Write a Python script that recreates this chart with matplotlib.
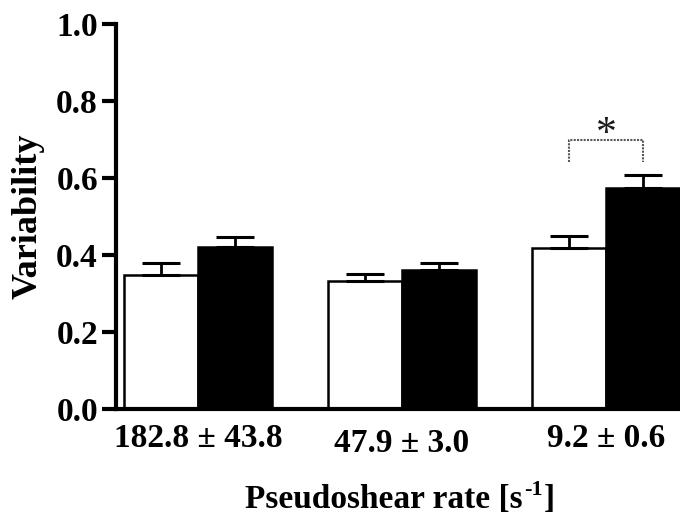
import matplotlib
matplotlib.use("Agg")
import matplotlib.pyplot as plt
import matplotlib.transforms as mtransforms
import numpy as np

# pseudoshear rate groups (mean ± sd, s^-1)
groups = ["182.8 \u00b1 43.8", "47.9 \u00b1 3.0", "9.2 \u00b1 0.6"]
open_vals = [0.348, 0.333, 0.417]
open_err = [0.031, 0.018, 0.031]
filled_vals = [0.421, 0.360, 0.573]
filled_err = [0.026, 0.020, 0.035]
yticks = [0.0, 0.2, 0.4, 0.6, 0.8, 1.0]

plt.rcParams["font.family"] = ["Liberation Serif", "DejaVu Serif"]
plt.rcParams["font.weight"] = "bold"

fig = plt.figure(figsize=(6.8, 5.21), dpi=100)
ax = fig.add_axes([0.1706, 0.215, 0.8294, 0.739])

x = np.arange(len(groups))
w = 0.363

ax.bar(x - w / 2, open_vals, w, color="white", edgecolor="black", linewidth=1.8, zorder=2)
ax.bar(x + w / 2, filled_vals, w, color="black", edgecolor="black", linewidth=1.8, zorder=2)
# upper error bars only
ax.errorbar(x - w / 2, open_vals, yerr=[np.zeros(3), open_err], fmt="none",
            ecolor="black", elinewidth=2, capsize=13.5, capthick=2.2, zorder=3)
ax.errorbar(x + w / 2, filled_vals, yerr=[np.zeros(3), filled_err], fmt="none",
            ecolor="black", elinewidth=2, capsize=13.5, capthick=2.2, zorder=3)

# significance bracket on the last group
bx0, bx1 = x[2] - w / 2, x[2] + w / 2
ax.plot([bx0, bx0, bx1, bx1], [0.642, 0.699, 0.699, 0.642], color="0.35",
        linewidth=1.5, linestyle=(0, (1, 0.6)), zorder=3, clip_on=False)
ax.text(x[2], 0.685, "*", ha="center", va="baseline", fontsize=30,
        fontweight="normal", color="0.1")

ax.set_xlim(-0.402, 2.363)
ax.set_ylim(0, 1.0)
ax.set_yticks(yticks)
ax.set_yticklabels(["%.1f" % t for t in yticks], fontsize=24, fontweight="bold")
ax.set_xticks(x)
ax.set_xticklabels(groups, fontsize=24, fontweight="bold")
ax.tick_params(axis="x", length=0, pad=10)
ax.tick_params(axis="y", length=10, width=3, pad=3, direction="out")
# middle group label sits a little lower
mid = ax.get_xticklabels()[1]
mid.set_transform(mid.get_transform() +
                  mtransforms.ScaledTranslation(0, -4 / 72, fig.dpi_scale_trans))

for s in ["top", "right"]:
    ax.spines[s].set_visible(False)
for s in ["left", "bottom"]:
    ax.spines[s].set_linewidth(3)

ax.set_ylabel("Variability", fontsize=26, fontweight="bold", labelpad=8)

# x label with a small hyphen-style superscript
fig.canvas.draw()
r = fig.canvas.get_renderer()
base = 0.024
lab = fig.text(0.5, base, "Pseudoshear rate [s", fontsize=24, fontweight="bold",
               ha="left", va="baseline")
sup = fig.text(0.5, base, "-1", fontsize=16, fontweight="bold", ha="left", va="baseline")
end = fig.text(0.5, base, "]", fontsize=24, fontweight="bold", ha="left", va="baseline")
w1 = lab.get_window_extent(r).width
w2 = sup.get_window_extent(r).width
w3 = end.get_window_extent(r).width
total = w1 + w2 + w3 + 2
x0 = 400 - total / 2
figw = fig.bbox.width
lab.set_x(x0 / figw)
sup.set_x((x0 + w1 + 1) / figw)
sup.set_y(base + 13 / fig.bbox.height)
end.set_x((x0 + w1 + w2 + 2) / figw)

fig.savefig("out.png", dpi=100)
